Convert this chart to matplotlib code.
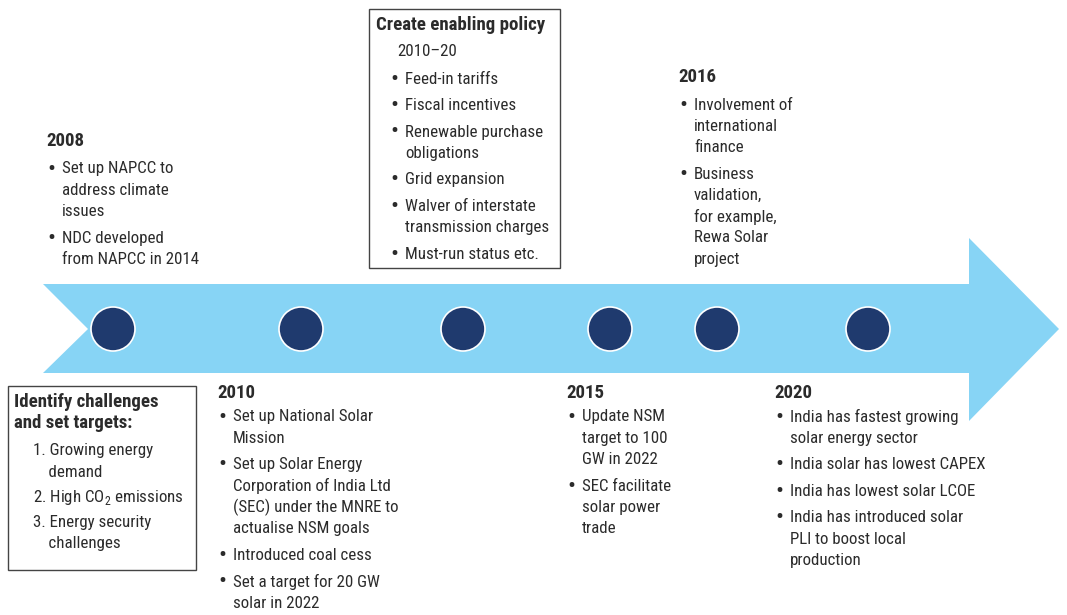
import matplotlib.pyplot as plt
from matplotlib.patches import Polygon, Circle, Rectangle

plt.rcParams['font.family'] = ['Roboto Condensed', 'Archivo Narrow', 'DejaVu Sans']
plt.rcParams['mathtext.fontset'] = 'custom'
plt.rcParams['mathtext.rm'] = 'Roboto Condensed'

# data
years = ['2008', '2010', '2015', '2016', '2020']
items_2008 = [['Set up NAPCC to', 'address climate', 'issues'],
              ['NDC developed', 'from NAPCC in 2014']]
items_2010 = [['Set up National Solar', 'Mission'],
              ['Set up Solar Energy', 'Corporation of India Ltd',
               '(SEC) under the MNRE to', 'actualise NSM goals'],
              ['Introduced coal cess'],
              ['Set a target for 20 GW', 'solar in 2022']]
items_2015 = [['Update NSM', 'target to 100', 'GW in 2022'],
              ['SEC facilitate', 'solar power', 'trade']]
items_2016 = [['Involvement of', 'international', 'finance'],
              ['Business', 'validation,', 'for example,', 'Rewa Solar', 'project']]
items_2020 = [['India has fastest growing', 'solar energy sector'],
              ['India solar has lowest CAPEX'],
              ['India has lowest solar LCOE'],
              ['India has introduced solar', 'PLI to boost local', 'production']]
policy_title = 'Create enabling policy'
policy_period = '2010\u201320'
policy_items = [['Feed-in tariffs'], ['Fiscal incentives'],
                ['Renewable purchase', 'obligations'], ['Grid expansion'],
                ['Walver of interstate', 'transmission charges'],
                ['Must-run status etc.']]
challenge_title = ['Identify challenges', 'and set targets:']
challenge_items = [['1. Growing energy', '    demand'],
                   ['2. High CO$_\\mathrm{2}$ emissions'],
                   ['3. Energy security', '    challenges']]
circle_x = [113, 301, 463, 610, 717, 868]

BLUE = '#87d4f5'
NAVY = '#1f3a6e'
TXT = '#2b2b2b'
FS = 12.2
FS_HEAD = 13.6

fig = plt.figure(figsize=(10.67, 6.15), dpi=100)
ax = fig.add_axes([0, 0, 1, 1])
ax.set_xlim(0, 1067)
ax.set_ylim(615, 0)
ax.axis('off')

# arrow
arrow = Polygon([(43, 284), (969, 284), (969, 238), (1059, 329), (969, 421),
                 (969, 373), (43, 373), (88, 329)], closed=True,
                facecolor=BLUE, edgecolor='none')
ax.add_patch(arrow)
for cx in circle_x:
    ax.add_patch(Circle((cx, 329), 22, facecolor=NAVY, edgecolor='white', lw=1.2))


def draw_bullets(x, y, items, line_h=21.3, gap=26.5, bullet=True):
    for item in items:
        for i, line in enumerate(item):
            if bullet and i == 0:
                ax.text(x - 11, y, '\u2022', fontsize=17, color=TXT, ha='center', va='center')
            ax.text(x, y, line, fontsize=FS, color=TXT, va='center')
            y += line_h
        y += gap - line_h
    return y


def draw_block(x, y_head, y_first, year, items):
    ax.text(x - 16, y_head, year, fontsize=FS_HEAD, fontweight='bold', color=TXT, va='center')
    draw_bullets(x, y_first, items)


draw_block(62, 141, 169, years[0], items_2008)
draw_block(233, 393, 417, years[1], items_2010)
draw_block(582, 393, 417, years[2], items_2015)
draw_block(694, 77, 105, years[3], items_2016)
draw_block(790, 393, 417, years[4], items_2020)

# policy box
ax.add_patch(Rectangle((369, 9), 191, 259, facecolor='none', edgecolor='#444444', lw=1))
ax.text(376, 25, policy_title, fontsize=FS_HEAD, fontweight='bold', color=TXT, va='center')
ax.text(397, 51, policy_period, fontsize=FS, color=TXT, va='center')
draw_bullets(405, 79, policy_items)

# challenges box
ax.add_patch(Rectangle((8, 386), 188, 184, facecolor='none', edgecolor='#444444', lw=1))
ax.text(14, 402, challenge_title[0], fontsize=FS_HEAD, fontweight='bold', color=TXT, va='center')
ax.text(14, 423, challenge_title[1], fontsize=FS_HEAD, fontweight='bold', color=TXT, va='center')
draw_bullets(33, 451, challenge_items, gap=25, bullet=False)

fig.savefig('out.png', dpi=100)
